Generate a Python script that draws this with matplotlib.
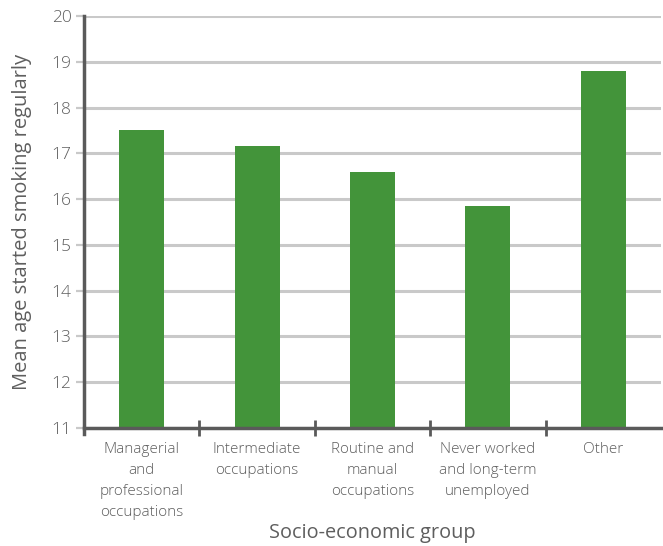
import numpy as np
import matplotlib.pyplot as plt
from matplotlib.ticker import FixedLocator

plt.rcParams['font.family'] = ['Open Sans', 'DejaVu Sans']
plt.rcParams['font.weight'] = 'light'

# Data
groups = ["Managerial\nand\nprofessional\noccupations",
          "Intermediate\noccupations",
          "Routine and\nmanual\noccupations",
          "Never worked\nand long-term\nunemployed",
          "Other"]
mean_age = [17.5, 17.17, 16.6, 15.86, 18.8]
y_ticks = [11, 12, 13, 14, 15, 16, 17, 18, 19, 20]

text_col = '#5e5e5e'
axis_col = '#5a5a5a'
grid_col = '#c9c9c9'
bar_col = '#43943a'

fig = plt.figure(figsize=(6.63, 5.46), dpi=100)
ax = fig.add_axes([0.1267, 0.216, 0.8703, 0.7547])

x = np.arange(len(groups))
ax.bar(x, mean_age, width=0.39, bottom=0, color=bar_col, zorder=3)

ax.set_xlim(-0.5, len(groups) - 0.5)
ax.set_ylim(11, 20)
ax.set_yticks(y_ticks)
ax.grid(axis='y', color=grid_col, linewidth=2.2, zorder=0)
ax.tick_params(axis='y', colors=grid_col, length=6, width=1.6, labelcolor=text_col,
               labelsize=12.5, pad=3)

# category boundary ticks on x axis, labels at centres
ax.set_xticks(x)
ax.set_xticklabels(groups, color=text_col, fontsize=11, linespacing=1.55, va='top')
ax.tick_params(axis='x', which='major', length=0, pad=10)
ax.xaxis.set_minor_locator(FixedLocator(np.arange(0.5, len(groups) - 1, 1.0)))
ax.tick_params(axis='x', which='minor', direction='inout', length=12, width=2,
               color=axis_col)

for side in ['top', 'right']:
    ax.spines[side].set_visible(False)
ax.spines['left'].set_color(axis_col)
ax.spines['left'].set_linewidth(2.5)
ax.spines['left'].set_bounds(10.87, 20)
ax.spines['bottom'].set_color(axis_col)
ax.spines['bottom'].set_linewidth(2.5)
ax.spines['bottom'].set_zorder(4)

ax.set_ylabel("Mean age started smoking regularly", color=text_col, fontsize=14.5,
              labelpad=14)
ax.set_xlabel("Socio-economic group", color=text_col, fontsize=14.3, va='center')
ax.xaxis.set_label_coords(0.5, -0.255)

fig.savefig('out.png', dpi=100)
